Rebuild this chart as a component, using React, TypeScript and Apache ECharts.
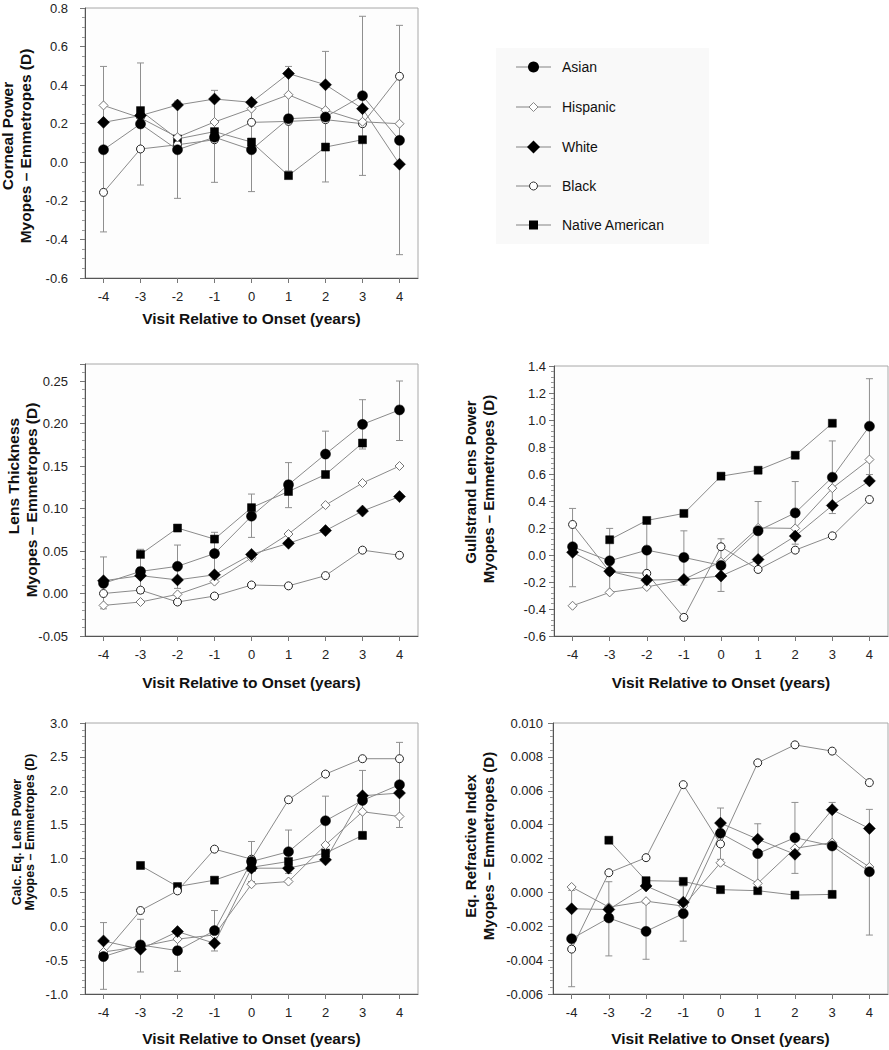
import React, { useEffect, useRef } from 'react';
import * as echarts from 'echarts';

// ---------- categories ----------
const visits = ['-4', '-3', '-2', '-1', '0', '1', '2', '3', '4'];
const groupNames = ['Asian', 'Hispanic', 'White', 'Black', 'Native American'];
const xTitle = 'Visit Relative to Onset (years)';

// ---------- Panel 1: Corneal Power ----------
const cornealAsian = [0.065, 0.199, 0.065, 0.13, 0.065, 0.226, 0.235, 0.345, 0.114];
const cornealHispanic = [0.295, 0.23, 0.13, 0.209, 0.278, 0.35, 0.27, 0.21, 0.2];
const cornealWhite = [0.207, 0.242, 0.297, 0.328, 0.311, 0.46, 0.402, 0.278, -0.01];
const cornealBlack = [-0.156, 0.069, 0.091, 0.117, 0.207, 0.212, 0.221, 0.2, 0.446];
const cornealNative = [null, 0.268, 0.121, 0.159, 0.105, -0.069, 0.079, 0.117, null];
const cornealAsianLow = [-0.361, -0.118, -0.187, -0.104, -0.152, -0.045, -0.102, -0.068, -0.479];
const cornealAsianHigh = [0.497, 0.515, 0.317, 0.373, 0.282, 0.497, 0.575, 0.757, 0.71];

// ---------- Panel 2: Lens Thickness ----------
const thickAsian = [0.012, 0.026, 0.032, 0.047, 0.091, 0.128, 0.164, 0.199, 0.216];
const thickHispanic = [-0.014, -0.01, -0.001, 0.014, 0.042, 0.07, 0.104, 0.13, 0.15];
const thickWhite = [0.015, 0.021, 0.016, 0.022, 0.046, 0.059, 0.074, 0.097, 0.114];
const thickBlack = [0.0, 0.004, -0.01, -0.003, 0.01, 0.009, 0.021, 0.051, 0.045];
const thickNative = [null, 0.046, 0.077, 0.064, 0.101, 0.12, 0.14, 0.177, null];
const thickAsianLow = [-0.018, 0.0, 0.006, 0.021, 0.066, 0.101, 0.137, 0.17, 0.18];
const thickAsianHigh = [0.043, 0.052, 0.057, 0.072, 0.117, 0.154, 0.191, 0.228, 0.25];

// ---------- Panel 3: Gullstrand Lens Power ----------
const gullAsian = [0.061, -0.043, 0.036, -0.018, -0.077, 0.179, 0.312, 0.576, 0.954];
const gullHispanic = [-0.376, -0.277, -0.237, -0.181, -0.05, 0.201, 0.197, 0.495, 0.707];
const gullWhite = [0.02, -0.12, -0.186, -0.181, -0.156, -0.033, 0.14, 0.367, 0.549];
const gullBlack = [0.226, -0.124, -0.136, -0.462, 0.061, -0.107, 0.036, 0.142, 0.411];
const gullNative = [null, 0.113, 0.256, 0.308, 0.584, 0.628, 0.739, 0.976, null];
const gullAsianLow = [-0.235, -0.283, -0.19, -0.223, -0.27, -0.04, 0.08, 0.307, 0.596];
const gullAsianHigh = [0.345, 0.197, 0.26, 0.179, 0.12, 0.396, 0.544, 0.845, 1.306];

// ---------- Panel 4: Calc. Eq. Lens Power ----------
const calcAsian = [-0.448, -0.276, -0.36, -0.064, 0.956, 1.1, 1.557, 1.857, 2.089];
const calcHispanic = [-0.38, -0.3, -0.19, -0.128, 0.62, 0.66, 1.2, 1.69, 1.62];
const calcWhite = [-0.217, -0.34, -0.079, -0.251, 0.857, 0.857, 0.98, 1.926, 1.966];
const calcBlack = [-0.409, 0.232, 0.522, 1.138, 0.99, 1.867, 2.246, 2.473, 2.473];
const calcNative = [null, 0.897, 0.586, 0.68, 0.87, 0.956, 1.08, 1.34, null];
const calcAsianLow = [-0.931, -0.675, -0.665, -0.365, 0.66, 0.78, 1.19, 1.4, 1.458];
const calcAsianHigh = [0.054, 0.103, -0.055, 0.232, 1.251, 1.42, 1.92, 2.3, 2.714];

// ---------- Panel 5: Eq. Refractive Index ----------
const refAsian = [-0.00274, -0.00151, -0.0023, -0.00125, 0.00349, 0.00229, 0.00323, 0.00274, 0.00122];
const refHispanic = [0.00032, -0.00087, -0.00052, -0.00081, 0.00175, 0.00053, 0.0026, 0.00294, 0.0015];
const refWhite = [-0.00097, -0.00101, 0.00038, -0.00058, 0.00409, 0.00314, 0.00225, 0.00488, 0.00377];
const refBlack = [-0.00335, 0.00116, 0.00205, 0.00636, 0.00286, 0.00765, 0.00871, 0.00834, 0.00648];
const refNative = [null, 0.00308, 0.00069, 0.00065, 0.00016, 0.0001, -0.00016, -0.00012, null];
const refAsianLow = [-0.00557, -0.00375, -0.00395, -0.00288, 0.00195, 0.00053, 0.00112, 0.0001, -0.00252];
const refAsianHigh = [0.00012, 0.00063, -0.00065, 0.00038, 0.00498, 0.00405, 0.00531, 0.00531, 0.0049];

const FONT = '"Liberation Sans", Arial, Helvetica, sans-serif';
const LINE_GRAY = '#8a8a8a';

type Panel = {
  grid: { left: number; top: number; width: number; height: number };
  y: { min: number; max: number; interval: number; split: number; dec: number; margin: number };
  names: { text: string; x: number; y: number; size: number }[];
  xNameGap: number;
  series: { asian: any[]; hispanic: any[]; white: any[]; black: any[]; native: any[]; low: number[]; high: number[] };
};

const panels: Panel[] = [
  {
    grid: { left: 85, top: 8, width: 333, height: 270 },
    y: { min: -0.6, max: 0.8, interval: 0.2, split: 4, dec: 1, margin: 17 },
    names: [
      { text: 'Corneal Power', x: 7, y: 136, size: 15.5 },
      { text: 'Myopes \u2013 Emmetropes (D)', x: 25, y: 146, size: 15.5 },
    ],
    xNameGap: 32,
    series: { asian: cornealAsian, hispanic: cornealHispanic, white: cornealWhite, black: cornealBlack, native: cornealNative, low: cornealAsianLow, high: cornealAsianHigh },
  },
  {
    grid: { left: 85, top: 364, width: 333, height: 272 },
    y: { min: -0.05, max: 0.27, interval: 0.05, split: 5, dec: 2, margin: 17 },
    names: [
      { text: 'Lens Thickness', x: 13, y: 476, size: 15.5 },
      { text: 'Myopes \u2013 Emmetropes (D)', x: 31, y: 500, size: 15.5 },
    ],
    xNameGap: 38,
    series: { asian: thickAsian, hispanic: thickHispanic, white: thickWhite, black: thickBlack, native: thickNative, low: thickAsianLow, high: thickAsianHigh },
  },
  {
    grid: { left: 554, top: 366, width: 334, height: 270 },
    y: { min: -0.6, max: 1.4, interval: 0.2, split: 5, dec: 1, margin: 8 },
    names: [
      { text: 'Gullstrand Lens Power', x: 470, y: 482, size: 15 },
      { text: 'Myopes \u2013 Emmetropes (D)', x: 488, y: 489, size: 15 },
    ],
    xNameGap: 38,
    series: { asian: gullAsian, hispanic: gullHispanic, white: gullWhite, black: gullBlack, native: gullNative, low: gullAsianLow, high: gullAsianHigh },
  },
  {
    grid: { left: 85, top: 723, width: 333, height: 271 },
    y: { min: -1.0, max: 3.0, interval: 0.5, split: 5, dec: 1, margin: 17 },
    names: [
      { text: 'Calc. Eq. Lens Power', x: 17, y: 842, size: 12.5 },
      { text: 'Myopes \u2013 Emmetropes (D)', x: 30, y: 832, size: 12.5 },
    ],
    xNameGap: 36,
    series: { asian: calcAsian, hispanic: calcHispanic, white: calcWhite, black: calcBlack, native: calcNative, low: calcAsianLow, high: calcAsianHigh },
  },
  {
    grid: { left: 553, top: 723, width: 335, height: 271 },
    y: { min: -0.006, max: 0.01, interval: 0.002, split: 5, dec: 3, margin: 10 },
    names: [
      { text: 'Eq. Refractive Index', x: 470, y: 846, size: 15 },
      { text: 'Myopes \u2013 Emmetropes (D)', x: 488, y: 846, size: 15 },
    ],
    xNameGap: 36,
    series: { asian: refAsian, hispanic: refHispanic, white: refWhite, black: refBlack, native: refNative, low: refAsianLow, high: refAsianHigh },
  },
];

const markerStyles: Record<string, any> = {
  Asian: { symbol: 'circle', symbolSize: 10, itemStyle: { color: '#000', borderColor: '#000', borderWidth: 0.5 } },
  Hispanic: { symbol: 'diamond', symbolSize: 9, itemStyle: { color: '#fff', borderColor: '#777', borderWidth: 1 } },
  White: { symbol: 'diamond', symbolSize: 12, itemStyle: { color: '#000', borderColor: '#000', borderWidth: 0.5 } },
  Black: { symbol: 'circle', symbolSize: 8, itemStyle: { color: '#fff', borderColor: '#222', borderWidth: 1 } },
  'Native American': { symbol: 'rect', symbolSize: 8, itemStyle: { color: '#000', borderColor: '#000', borderWidth: 0.5 } },
};

const drawOrder: [string, keyof Panel['series']][] = [
  ['Native American', 'native'],
  ['Black', 'black'],
  ['Hispanic', 'hispanic'],
  ['Asian', 'asian'],
  ['White', 'white'],
];

function buildOption() {
  const grids: any[] = [];
  const xAxes: any[] = [];
  const yAxes: any[] = [];
  const series: any[] = [];
  const graphics: any[] = [];

  panels.forEach((p, i) => {
    grids.push({
      ...p.grid,
      show: true,
      borderColor: '#a8a8a8',
      borderWidth: 1,
      backgroundColor: '#fdfdfd',
      containLabel: false,
    });
    xAxes.push({
      gridIndex: i,
      type: 'category',
      data: visits,
      boundaryGap: true,
      name: xTitle,
      nameLocation: 'middle',
      nameGap: p.xNameGap,
      nameTextStyle: { fontFamily: FONT, fontWeight: 'bold', fontSize: 15.5, color: '#111' },
      axisLine: { show: true, onZero: false, lineStyle: { color: '#555', width: 1 } },
      axisTick: { show: true, alignWithLabel: true, length: 5, lineStyle: { color: '#777' } },
      axisLabel: { fontFamily: FONT, fontSize: 13, color: '#222', margin: 12 },
      splitLine: { show: false },
    });
    const dec = p.y.dec;
    yAxes.push({
      gridIndex: i,
      type: 'value',
      min: p.y.min,
      max: p.y.max,
      interval: p.y.interval,
      axisLine: { show: true, onZero: false, lineStyle: { color: '#555', width: 1 } },
      axisTick: { show: true, length: 5, lineStyle: { color: '#777' } },
      minorTick: { show: true, splitNumber: p.y.split, length: 3, lineStyle: { color: '#999' } },
      axisLabel: {
        fontFamily: FONT,
        fontSize: 13,
        color: '#222',
        margin: p.y.margin,
        showMaxLabel: Math.abs(p.y.max / p.y.interval - Math.round(p.y.max / p.y.interval)) < 1e-6,
        formatter: (v: number) => (Math.abs(v) < 1e-12 ? 0 : v).toFixed(dec),
      },
      splitLine: { show: false },
      minorSplitLine: { show: false },
    });

    // error bars (Asian)
    series.push({
      type: 'custom',
      name: 'Asian SE',
      xAxisIndex: i,
      yAxisIndex: i,
      z: 1,
      silent: true,
      encode: { x: 0, y: [1, 2] },
      data: visits.map((_, k) => [k, p.series.low[k], p.series.high[k]]),
      renderItem: (params: any, api: any) => {
        const x = api.value(0);
        const lo = api.coord([x, api.value(1)]);
        const hi = api.coord([x, api.value(2)]);
        const w = 3.5;
        const style = { stroke: '#8f8f8f', lineWidth: 1 };
        return {
          type: 'group',
          children: [
            { type: 'line', shape: { x1: lo[0], y1: lo[1], x2: hi[0], y2: hi[1] }, style },
            { type: 'line', shape: { x1: hi[0] - w, y1: hi[1], x2: hi[0] + w, y2: hi[1] }, style },
            { type: 'line', shape: { x1: lo[0] - w, y1: lo[1], x2: lo[0] + w, y2: lo[1] }, style },
          ],
        };
      },
    });

    drawOrder.forEach(([name, key]) => {
      const m = markerStyles[name];
      series.push({
        type: 'line',
        name,
        xAxisIndex: i,
        yAxisIndex: i,
        z: 3,
        data: (p.series[key] as any[]).map((v) => (v === null ? '-' : v)),
        connectNulls: false,
        showAllSymbol: true,
        symbol: m.symbol,
        symbolSize: m.symbolSize,
        itemStyle: m.itemStyle,
        lineStyle: { color: LINE_GRAY, width: 1 },
        emphasis: { disabled: true },
      });
    });

    p.names.forEach((n) => {
      graphics.push({
        type: 'text',
        x: n.x,
        y: n.y,
        rotation: Math.PI / 2,
        style: {
          text: n.text,
          fontFamily: FONT,
          fontWeight: 'bold',
          fontSize: n.size,
          fill: '#111',
          align: 'center',
          verticalAlign: 'middle',
        },
      });
    });
  });

  // legend (drawn as graphic)
  graphics.push({
    type: 'rect',
    shape: { x: 496, y: 48, width: 213, height: 196 },
    style: { fill: '#f9f9f9', stroke: 'none' },
    z: 0,
  });
  const legendY = [67, 107, 147, 186, 225];
  const lx1 = 516;
  const lx2 = 551;
  const mx = 533.5;
  groupNames.forEach((name, k) => {
    const y = legendY[k];
    graphics.push({ type: 'line', shape: { x1: lx1, y1: y, x2: lx2, y2: y }, style: { stroke: '#aaa', lineWidth: 1.5 } });
    if (name === 'Asian') {
      graphics.push({ type: 'circle', shape: { cx: mx, cy: y, r: 5.5 }, style: { fill: '#000' } });
    } else if (name === 'Hispanic') {
      const s = 4.5;
      graphics.push({ type: 'polygon', shape: { points: [[mx, y - s], [mx + s, y], [mx, y + s], [mx - s, y]] }, style: { fill: '#fff', stroke: '#888', lineWidth: 1 } });
    } else if (name === 'White') {
      const s = 6.5;
      graphics.push({ type: 'polygon', shape: { points: [[mx, y - s], [mx + s, y], [mx, y + s], [mx - s, y]] }, style: { fill: '#000' } });
    } else if (name === 'Black') {
      graphics.push({ type: 'circle', shape: { cx: mx, cy: y, r: 4 }, style: { fill: '#fff', stroke: '#333', lineWidth: 1 } });
    } else {
      graphics.push({ type: 'rect', shape: { x: mx - 4.5, y: y - 4.5, width: 9, height: 9 }, style: { fill: '#000' } });
    }
    graphics.push({
      type: 'text',
      x: 562,
      y,
      style: { text: name, fontFamily: FONT, fontSize: 14, fill: '#111', align: 'left', verticalAlign: 'middle' },
    });
  });

  return {
    animation: false,
    backgroundColor: '#ffffff',
    textStyle: { fontFamily: FONT },
    grid: grids,
    xAxis: xAxes,
    yAxis: yAxes,
    series,
    graphic: graphics,
  };
}

export default function App() {
  const ref = useRef<HTMLDivElement>(null);
  useEffect(() => {
    if (!ref.current) return;
    const chart = echarts.init(ref.current, undefined, { renderer: 'svg' });
    chart.setOption(buildOption() as any);
    return () => chart.dispose();
  }, []);
  return (
    <div
      ref={ref}
      style={{ position: 'absolute', left: 0, top: 0, width: 889, height: 1050, background: '#fff' }}
    />
  );
}
